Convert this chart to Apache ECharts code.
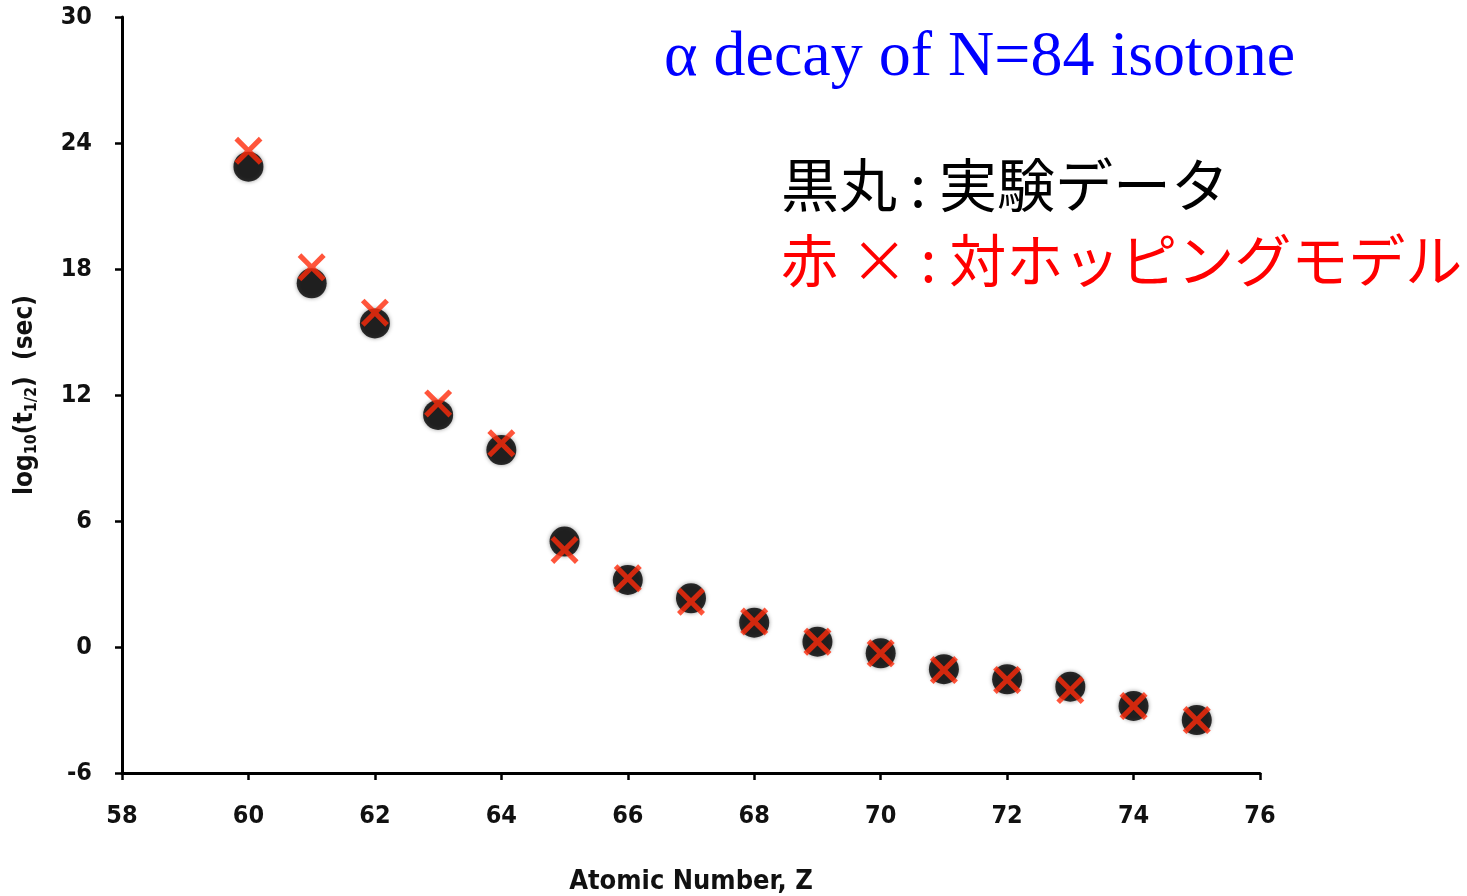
<!DOCTYPE html>
<html>
<head>
<meta charset="utf-8">
<script src="https://cdn.jsdelivr.net/npm/echarts@6/dist/echarts.min.js"></script>
<style>
html,body{margin:0;padding:0;background:#fff;}
#chart{width:1467px;height:896px;}
</style>
</head>
<body>
<div id="chart"></div>
<script>
const atomicNumbers = [60, 61, 62, 63, 64, 65, 66, 67, 68, 69, 70, 71, 72, 73, 74, 75];
const experimentValues = [22.87, 17.32, 15.41, 11.05, 9.38, 5.02, 3.19, 2.32, 1.16, 0.25, -0.30, -1.06, -1.54, -1.89, -2.81, -3.48];
const modelValues = [23.63, 18.08, 15.92, 11.60, 9.70, 4.62, 3.27, 2.16, 1.21, 0.25, -0.30, -1.10, -1.57, -2.05, -2.81, -3.48];
const xTicks = [58, 60, 62, 64, 66, 68, 70, 72, 74, 76];
const yTicks = [-6, 0, 6, 12, 18, 24, 30];
const titleText = 'α decay of N=84 isotone';
const legendBlack = '黒丸 : 実験データ';
const legendRed = '赤 × : 対ホッピングモデル';
const xName = 'Atomic Number, Z';

const tickFont = '"Liberation Sans Narrow", "DejaVu Sans Condensed", "Liberation Sans", sans-serif';
const crossPath = 'path://M0,1.3 L1.3,0 L5,3.7 L8.7,0 L10,1.3 L6.3,5 L10,8.7 L8.7,10 L5,6.3 L1.3,10 L0,8.7 L3.7,5 Z';

const chart = echarts.init(document.getElementById('chart'));
chart.setOption({
  backgroundColor: '#fff',
  animation: false,
  grid: { left: 122, right: 207, top: 17, bottom: 123, containLabel: false, outerBoundsMode: 'none' },
  xAxis: {
    type: 'value', min: xTicks[0], max: xTicks[xTicks.length - 1], interval: 2,
    name: xName, nameLocation: 'middle', nameGap: 95,
    nameTextStyle: { fontFamily: tickFont, fontWeight: 'bold', fontSize: 27, color: '#111' },
    axisLine: { onZero: false, lineStyle: { color: '#000', width: 3 } },
    axisTick: { show: true, length: 7, lineStyle: { color: '#000', width: 2.5 } },
    axisLabel: { margin: 31, fontFamily: tickFont, fontWeight: 'bold', fontSize: 25, color: '#111' },
    splitLine: { show: false }
  },
  yAxis: {
    type: 'value', min: yTicks[0], max: yTicks[yTicks.length - 1], interval: 6,
    name: '{m|log}{s|10}{m|(t}{s|1/2}{m|)  (sec)}', nameLocation: 'middle', nameGap: 82, nameRotate: 90,
    nameTextStyle: {
      rich: {
        m: { fontFamily: tickFont, fontWeight: 'bold', fontSize: 26, color: '#111' },
        s: { fontFamily: tickFont, fontWeight: 'bold', fontSize: 16, color: '#111', verticalAlign: 'bottom', padding: [13, 0, 0, 0] }
      }
    },
    axisLine: { show: true, onZero: false, lineStyle: { color: '#000', width: 3 } },
    axisTick: { show: true, length: 7, lineStyle: { color: '#000', width: 2.5 } },
    axisLabel: { margin: 30, padding: [4, 0, 0, 0], fontFamily: tickFont, fontWeight: 'bold', fontSize: 25, color: '#111' },
    splitLine: { show: false }
  },
  series: [
    {
      name: legendBlack, type: 'scatter', symbol: 'circle', symbolSize: 30,
      itemStyle: { color: '#000', shadowBlur: 4, shadowColor: 'rgba(0,0,0,0.5)' },
      data: atomicNumbers.map((z, i) => [z, experimentValues[i]]),
      z: 2
    },
    {
      name: legendRed, type: 'scatter', symbol: crossPath, symbolSize: 28,
      itemStyle: { color: '#ff2a0a' },
      data: atomicNumbers.map((z, i) => [z, modelValues[i]]),
      z: 3
    }
  ],
  graphic: [
    { type: 'text', left: 664, top: 26, style: { text: titleText, fill: '#0000ff', font: '64px "Liberation Serif", "Times New Roman", serif' } },
    { type: 'text', left: 781, top: 156, style: { text: legendBlack, fill: '#000', font: '58px "Noto Sans CJK JP", sans-serif' } },
    { type: 'text', left: 781, top: 232, style: { text: legendRed, fill: '#ff0000', font: '57px "Noto Sans CJK JP", sans-serif' } }
  ]
});
</script>
</body>
</html>
